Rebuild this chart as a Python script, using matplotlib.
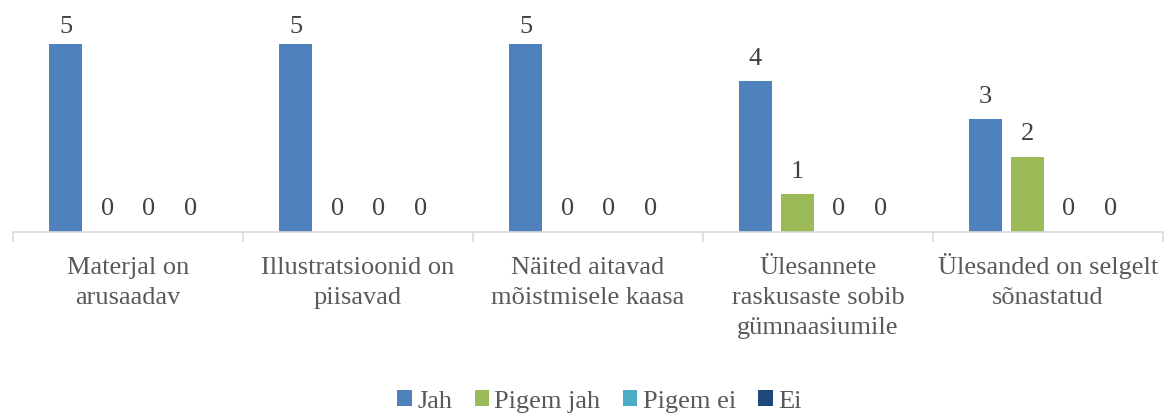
import numpy as np
from matplotlib import pyplot as plt
from matplotlib.transforms import ScaledTranslation

categories = ["Materjal on\narusaadav", "Illustratsioonid on\npiisavad",
              "Näited aitavad\nmõistmisele kaasa",
              "Ülesannete\nraskusaste sobib\ngümnaasiumile",
              "Ülesanded on selgelt\nsõnastatud"]
series = ["Jah", "Pigem jah", "Pigem ei", "Ei"]
jah = [5, 5, 5, 4, 3]
pigem_jah = [0, 0, 0, 1, 2]
pigem_ei = [0, 0, 0, 0, 0]
ei = [0, 0, 0, 0, 0]
colors = ["#4F81BD", "#9BBB59", "#4BACC6", "#1F497D"]

plt.rcParams['font.family'] = ['Liberation Serif', 'DejaVu Serif']

fig = plt.figure(figsize=(11.64, 4.14), dpi=100)
ax = fig.add_axes([13 / 1164, 181 / 414, 1150 / 1164, 226 / 414])

x = np.arange(len(categories))
step = 0.181
width = 0.144
offsets = (np.arange(4) - 1.5) * step
values = [jah, pigem_jah, pigem_ei, ei]

for vals, off, col, name in zip(values, offsets, colors, series):
    bars = ax.bar(x + off, vals, width, color=col, label=name, zorder=2)
    for b, v in zip(bars, vals):
        # labels at the top get squeezed inside the chart area
        pad = 5 if v == max(jah) else 9
        ax.annotate(str(v), (b.get_x() + b.get_width() / 2, v),
                    xytext=(0, pad), textcoords="offset points",
                    ha="center", va="bottom", fontsize=19, color="#404040")

ax.set_xlim(-0.5, len(categories) - 0.5)
ax.set_ylim(0, 6)
ax.set_yticks([])
for s in ["top", "right", "left"]:
    ax.spines[s].set_visible(False)
ax.spines["bottom"].set_color("#D9D9D9")
ax.spines["bottom"].set_linewidth(1.2)

# category labels, one text per line so every first line sits on the same baseline
ax.set_xticks(x)
ax.set_xticklabels([])
ax.tick_params(axis="x", which="major", length=0)
for xi, cat in zip(x, categories):
    for i, line in enumerate(cat.split("\n")):
        tr = ax.get_xaxis_transform() + ScaledTranslation(0, -(0.41 + 0.30 * i), fig.dpi_scale_trans)
        ax.text(xi, 0, line, transform=tr, ha="center", va="baseline",
                fontsize=19, color="#595959")
ax.set_xticks(np.arange(len(categories) + 1) - 0.5, minor=True)
ax.tick_params(axis="x", which="minor", length=7, color="#D9D9D9", width=1.2)

leg = fig.legend(loc="lower center", bbox_to_anchor=(0.515, -0.055), ncol=4,
                 frameon=False, fontsize=19, handlelength=0.55, handleheight=0.55,
                 handletextpad=0.2, columnspacing=0.85)
for t in leg.get_texts():
    t.set_color("#595959")

plt.savefig("out.png", dpi=100)
plt.close()
